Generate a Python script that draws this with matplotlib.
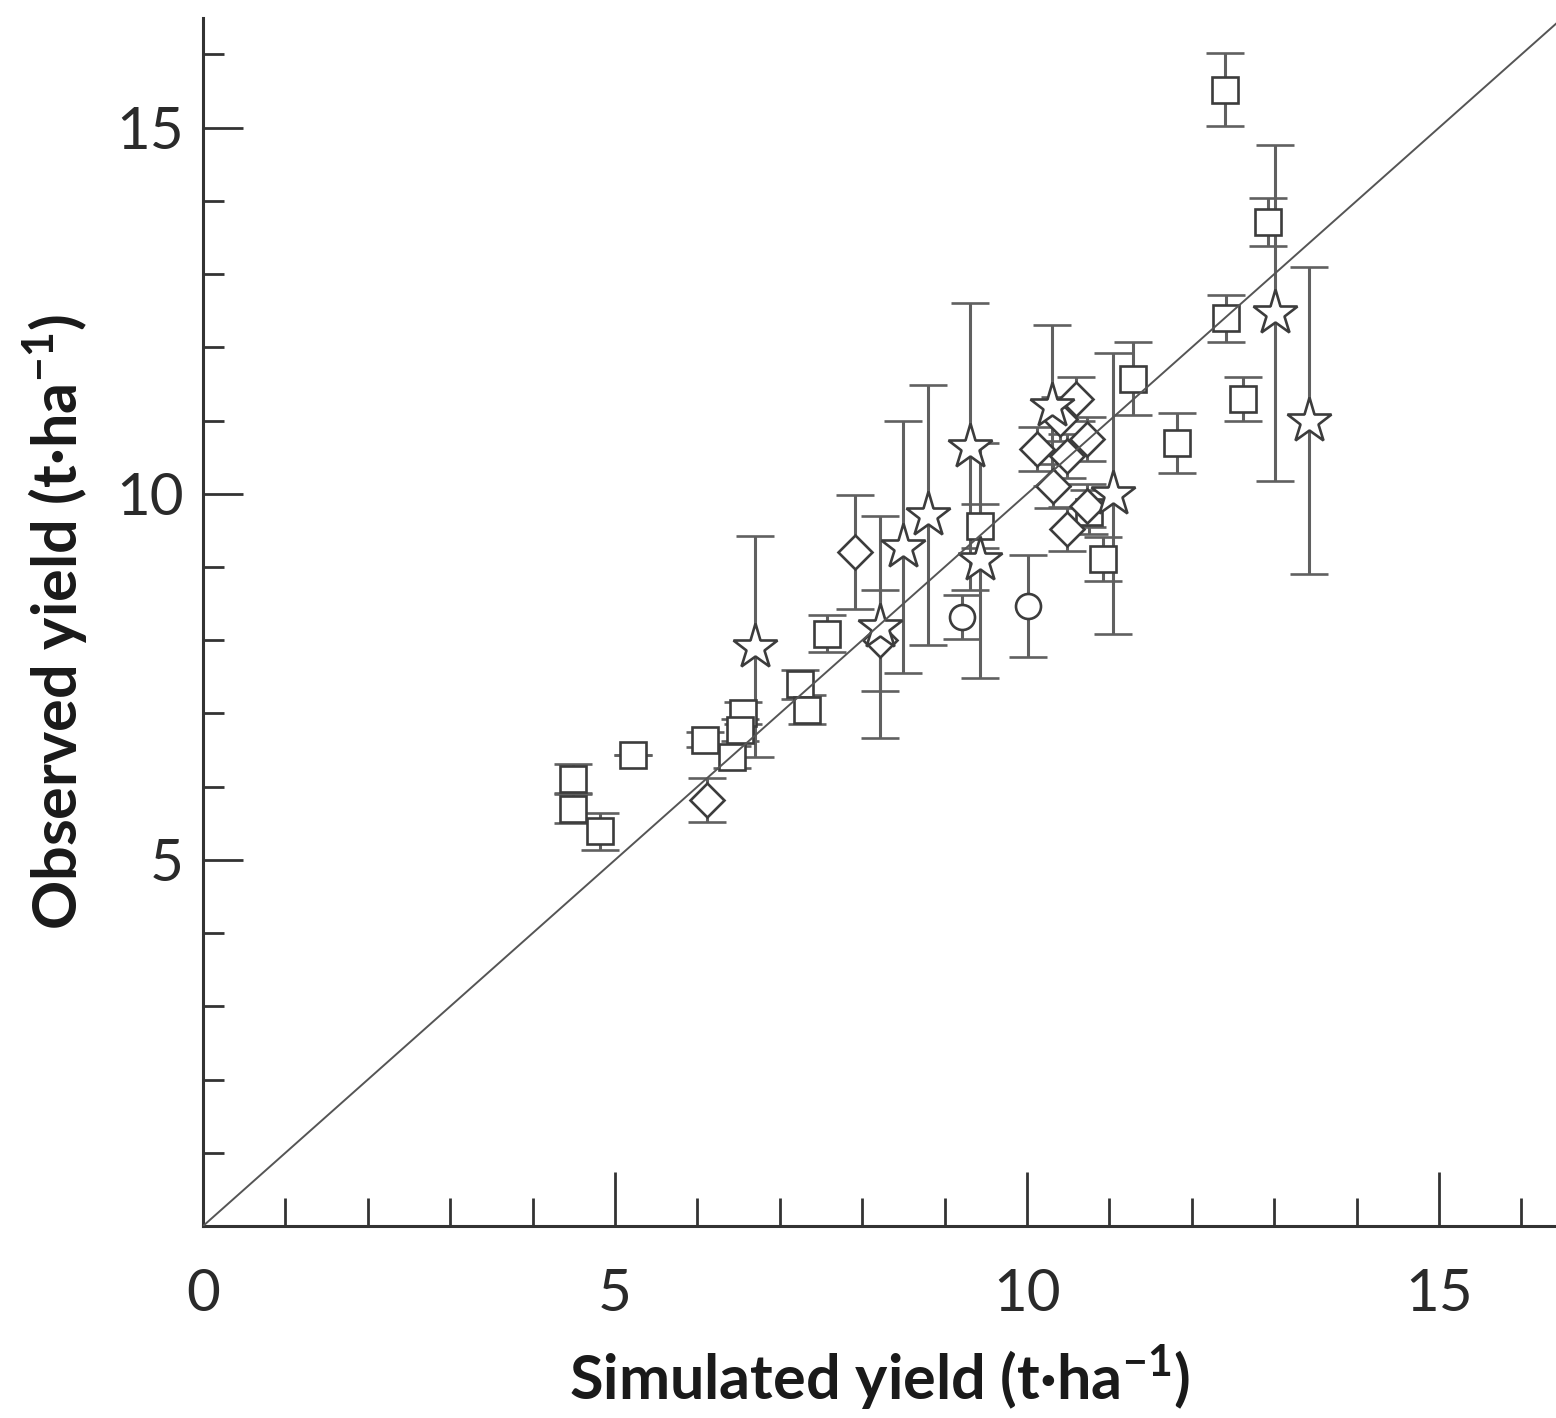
import matplotlib
matplotlib.use("Agg")
import matplotlib.pyplot as plt
import numpy as np

plt.rcParams['font.family'] = ['Lato', 'DejaVu Sans']
plt.rcParams['mathtext.fontset'] = 'custom'
plt.rcParams['mathtext.rm'] = 'Lato'
plt.rcParams['mathtext.bf'] = 'Lato:bold'

# 데이터 (simulated, observed, error)
sq_x = [4.49, 4.49, 4.82, 5.22, 6.09, 6.55, 6.52, 6.42, 7.24, 7.33, 7.57,
        9.43, 10.75, 10.92, 11.29, 11.82, 12.40, 12.92, 12.42, 12.62]
sq_y = [6.11, 5.70, 5.39, 6.43, 6.64, 7.00, 6.78, 6.41, 7.40, 7.05, 8.09,
        9.56, 9.75, 9.11, 11.57, 10.69, 15.52, 13.71, 12.40, 11.30]
sq_err = [0.2, 0.2, 0.25, 0.0, 0.1, 0.15, 0.15, 0.15, 0.2, 0.2, 0.25,
          0.3, 0.3, 0.3, 0.5, 0.41, 0.5, 0.33, 0.32, 0.3]

dm_x = [6.12, 7.91, 8.22, 10.12, 10.32, 10.40, 10.49, 10.49, 10.60, 10.73, 10.73]
dm_y = [5.82, 9.20, 8.00, 10.61, 10.11, 11.02, 10.52, 9.52, 11.30, 10.75, 9.84]
dm_err = [0.3, 0.78, 0.69, 0.3, 0.3, 0.3, 0.3, 0.3, 0.3, 0.3, 0.3]

ci_x = [9.21, 10.01]
ci_y = [8.32, 8.47]
ci_err = [0.3, 0.7]

st_x = [6.70, 8.22, 8.50, 8.80, 9.31, 9.43, 10.30, 11.04, 13.01, 13.42]
st_y = [7.91, 8.18, 9.27, 9.71, 10.64, 9.09, 11.20, 10.00, 12.47, 11.00]
st_err = [1.51, 1.51, 1.72, 1.78, 1.96, 1.60, 1.10, 1.92, 2.3, 2.1]

fig = plt.figure(figsize=(15.56, 14.18), dpi=100)
ax = fig.add_axes([0.1305, 0.1354, 0.8695, 0.852])

bar_color = '#606060'
edge_color = '#3c3c3c'

groups = [
    (sq_x, sq_y, sq_err, 's', 19),
    (dm_x, dm_y, dm_err, 'D', 17),
    (ci_x, ci_y, ci_err, 'o', 18),
    (st_x, st_y, st_err, '*', 34),
]
for gx, gy, ge, mk, ms in groups:
    ax.errorbar(gx, gy, yerr=ge, fmt=mk, ms=ms, mfc='white', mec=edge_color,
                mew=1.9, ecolor=bar_color, elinewidth=2.2, capsize=14,
                capthick=2.2, zorder=3)

# 1:1 선
ax.plot([0, 17], [0, 17], color='#555555', lw=1.4, zorder=4)

ax.set_xlim(0, 16.42)
ax.set_ylim(0, 16.5)

for s in ['top', 'right']:
    ax.spines[s].set_visible(False)
for s in ['left', 'bottom']:
    ax.spines[s].set_linewidth(2.2)
    ax.spines[s].set_color('#333333')

ax.set_xticks([0, 5, 10, 15])
ax.set_yticks([5, 10, 15])
ax.set_xticks(np.arange(0, 17, 1), minor=True)
ax.set_yticks(np.arange(1, 17, 1), minor=True)

ax.tick_params(axis='x', which='major', direction='in', length=39, width=2,
               color='#333333', labelsize=42, labelcolor='#2a2a2a', pad=30)
ax.tick_params(axis='x', which='minor', direction='in', length=20, width=2,
               color='#333333')
ax.tick_params(axis='y', which='major', direction='in', length=29, width=2,
               color='#333333', labelsize=42, labelcolor='#2a2a2a', pad=14)
ax.tick_params(axis='y', which='minor', direction='in', length=15, width=2,
               color='#333333')

ax.set_xlabel(r'Simulated yield (t·ha$^{\mathbf{-1}}$)', fontsize=44,
              fontweight='bold', color='#1a1a1a', labelpad=16)
ax.set_ylabel(r'Observed yield (t·ha$^{\mathbf{-1}}$)', fontsize=44,
              fontweight='bold', color='#1a1a1a', labelpad=18)

fig.savefig('out.png', dpi=100)
